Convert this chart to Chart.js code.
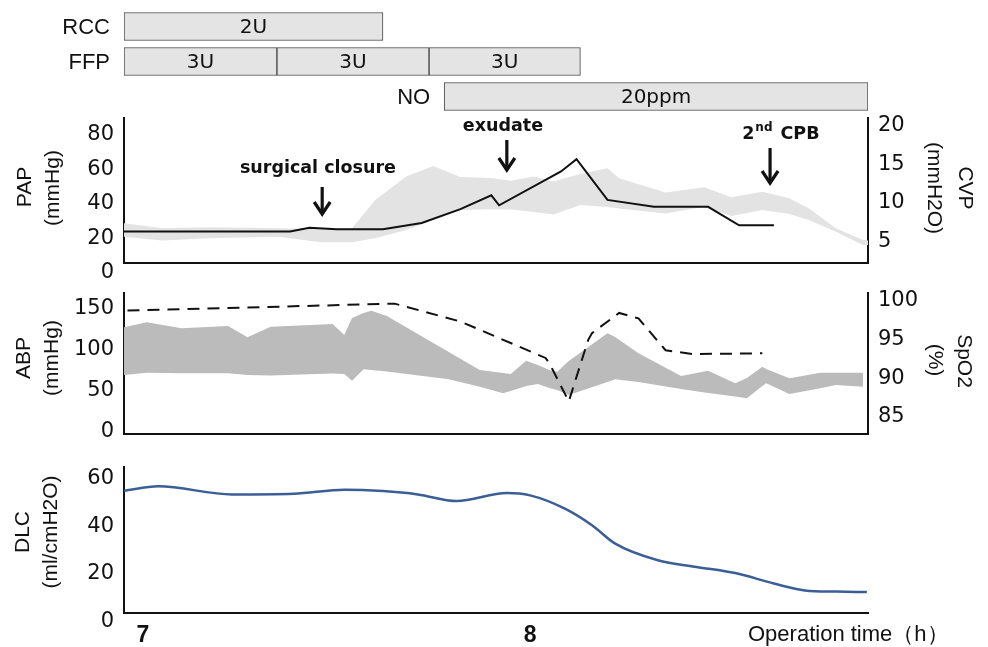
<!DOCTYPE html>
<html>
<head>
<meta charset="utf-8">
<script src="https://cdn.jsdelivr.net/npm/chart.js@4.4.1/dist/chart.umd.min.js"></script>
<style>
  html, body { margin: 0; padding: 0; background: #fff; }
  #wrap { position: relative; width: 988px; height: 647px; }
  #wrap canvas { position: absolute; left: 0; top: 0; }
</style>
</head>
<body>
<div id="wrap">
  <canvas id="bars" width="988" height="647"></canvas>
  <canvas id="pap" width="988" height="647"></canvas>
  <canvas id="abp" width="988" height="647"></canvas>
  <canvas id="dlc" width="988" height="647"></canvas>
</div>
<script>
// ---- data (time in hours of operation) ----
const X_MIN = 6.951, X_MAX = 8.873;
const timeTicks = [7, 8];

// transfusion / NO rows
const barRows = ['RCC', 'FFP', 'NO'];
const rccSpan = [6.951, 7.62];
const ffpSpans = [[6.951, 7.346], [7.346, 7.739], [7.739, 8.13]];
const noSpan = [7.778, 8.873];
const rccText = '2U';
const ffpText = ['3U', '3U', '3U'];
const noText = '20ppm';

// PAP band (mmHg)
const papTime = [6.95, 7.05, 7.17, 7.35, 7.46, 7.54, 7.60, 7.68, 7.75, 7.82, 7.90, 7.95, 8.01, 8.06, 8.13, 8.20, 8.23, 8.35, 8.45, 8.52, 8.60, 8.67, 8.72, 8.79, 8.86, 8.873];
const papHigh = [28.7, 25.8, 26.3, 25.8, 25.4, 25.8, 42.2, 55.8, 62.0, 55.6, 55.0, 53.4, 55.8, 52.9, 57.3, 60.6, 54.8, 46.5, 49.6, 43.8, 47.0, 43.2, 37.4, 25.8, 19.0, 18.6];
const papLow  = [20.9, 18.6, 19.9, 20.9, 17.6, 17.6, 19.9, 24.8, 30.6, 36.4, 36.8, 36.7, 35.2, 33.8, 39.3, 38.1, 37.3, 34.4, 38.3, 32.9, 36.4, 34.1, 30.6, 23.8, 16.1, 16.1];
const papTicks = [0, 20, 40, 60, 80];

// CVP (mmH2O)
const cvpTime = [6.95, 7.38, 7.43, 7.50, 7.62, 7.72, 7.82, 7.90, 7.92, 8.08, 8.12, 8.20, 8.32, 8.46, 8.54, 8.63];
const cvp     = [6.3, 6.3, 6.8, 6.6, 6.6, 7.4, 9.2, 11.0, 9.7, 14.1, 15.7, 10.4, 9.5, 9.5, 7.1, 7.1];
const cvpTicks = [5, 10, 15, 20];

// ABP band (mmHg)
const abpTime = [6.95, 7.01, 7.10, 7.22, 7.27, 7.33, 7.49, 7.52, 7.54, 7.57, 7.59, 7.63, 7.79, 7.87, 7.93, 7.95, 7.99, 8.02, 8.05, 8.07, 8.10, 8.20, 8.22, 8.28, 8.39, 8.46, 8.53, 8.56, 8.60, 8.61, 8.67, 8.75, 8.79, 8.85, 8.86];
const abpHigh = [127.6, 133.7, 126.3, 129.2, 115.3, 128.3, 131.6, 118.1, 139.0, 145.1, 147.9, 141.4, 97.3, 75.2, 71.6, 70.3, 86.6, 81.4, 75.2, 73.2, 86.3, 120.2, 115.7, 95.7, 67.9, 74.4, 58.9, 65.4, 79.3, 76.5, 65.1, 71.9, 71.9, 71.9, 71.9];
const abpLow  = [69.1, 71.9, 71.2, 71.2, 69.1, 68.5, 71.0, 70.3, 62.1, 76.1, 75.2, 73.4, 63.8, 54.8, 46.7, 49.5, 55.6, 58.1, 53.2, 50.7, 44.6, 60.5, 63.8, 60.5, 52.0, 47.1, 42.8, 40.6, 55.6, 58.9, 45.8, 52.8, 56.9, 55.0, 54.8];
const abpTicks = [0, 50, 100, 150];

// SpO2 (%)
const spo2Time = [6.96, 7.65, 7.82, 8.04, 8.05, 8.10, 8.15, 8.16, 8.23, 8.28, 8.35, 8.42, 8.60];
const spo2     = [98.7, 99.6, 97.3, 92.6, 91.9, 87.0, 94.9, 95.8, 98.4, 97.7, 93.6, 93.1, 93.2];
const spo2Ticks = [85, 90, 95, 100];

// DLC (ml/cmH2O)
const dlcTime = [6.95, 7.04, 7.23, 7.39, 7.52, 7.62, 7.71, 7.81, 7.94, 8.00, 8.09, 8.16, 8.22, 8.33, 8.43, 8.53, 8.63, 8.71, 8.79, 8.87];
const dlc     = [55.0, 56.9, 53.5, 53.8, 55.5, 54.9, 53.5, 50.7, 54.1, 53.1, 47.5, 40.5, 32.7, 25.7, 22.9, 20.3, 15.9, 13.0, 12.5, 12.3];
const dlcTicks = [0, 20, 40, 60];

// ---- look ----
const FONT = '"DejaVu Sans", sans-serif';
const TFONT = '"Liberation Sans", Arial, sans-serif';
const INK = '#111';
const PAGE_H = 647;

Chart.defaults.font.family = FONT;
Chart.defaults.color = INK;
Chart.defaults.animation = false;
Chart.defaults.responsive = false;
Chart.defaults.plugins.legend.display = false;
Chart.defaults.plugins.tooltip.enabled = false;

const zip = (xs, ys) => xs.map((x, i) => ({ x: x, y: ys[i] }));

function timeAxis(labelHeight) {
  return {
    type: 'linear', min: X_MIN, max: X_MAX, bounds: 'data',
    grid: { display: false, drawTicks: false },
    border: { display: true, color: INK, width: 2 },
    ticks: {
      display: !!labelHeight, padding: 9, maxRotation: 0, autoSkip: false,
      font: { family: TFONT, size: 23, weight: 'bold' },
      callback: v => String(v)
    },
    afterBuildTicks: s => { s.ticks = timeTicks.map(v => ({ value: v })); },
    afterFit: s => { s.height = labelHeight || 0; }
  };
}

function valueAxis(pos, min, max, ticks) {
  return {
    type: 'linear', position: pos, min: min, max: max, bounds: 'data',
    grid: { display: false, drawTicks: false },
    border: { display: true, color: INK, width: 2 },
    ticks: { padding: 10, autoSkip: false, font: { size: 21 }, color: INK },
    afterBuildTicks: s => { s.ticks = ticks.map(v => ({ value: v })); },
    afterFit: s => { s.width = pos === 'left' ? 124 : 120; }
  };
}

function vText(ctx, text, x, y, size, rot) {
  ctx.save();
  ctx.translate(x, y);
  ctx.rotate(rot);
  ctx.font = size + 'px ' + TFONT;
  ctx.fillStyle = INK;
  ctx.textAlign = 'center';
  ctx.textBaseline = 'middle';
  ctx.fillText(text, 0, 0);
  ctx.restore();
}

function titles(list) {
  return {
    id: 'titles',
    afterDraw(chart) {
      list.forEach(t => vText(chart.ctx, t[0], t[1], t[2], 21, t[3] === 'r' ? Math.PI / 2 : -Math.PI / 2));
    }
  };
}

function arrowDown(ctx, x, y0, y1) {
  ctx.save();
  ctx.strokeStyle = INK;
  ctx.lineWidth = 3.2;
  ctx.lineJoin = 'miter';
  ctx.beginPath();
  ctx.moveTo(x, y0); ctx.lineTo(x, y1 - 1);
  ctx.stroke();
  ctx.beginPath();
  ctx.moveTo(x - 8, y1 - 12); ctx.lineTo(x, y1); ctx.lineTo(x + 8, y1 - 12);
  ctx.stroke();
  ctx.restore();
}

// ---- transfusion bars ----
const barLabels = {
  id: 'barLabels',
  afterDatasetsDraw(chart) {
    const ctx = chart.ctx;
    ctx.save();
    ctx.fillStyle = INK;
    ctx.textBaseline = 'middle';
    ctx.textAlign = 'center';
    ctx.font = '20px ' + FONT;
    chart.data.datasets.forEach((ds, i) => {
      chart.getDatasetMeta(i).data.forEach((el, j) => {
        if (!ds.texts[j]) return;
        const p = el.getProps(['x', 'base', 'y'], true);
        ctx.fillText(ds.texts[j], (p.x + p.base) / 2, p.y + 1);
      });
    });
    ctx.textAlign = 'right';
    ctx.font = '22px ' + TFONT;
    const meta = chart.getDatasetMeta(0);
    barRows.forEach((r, j) => {
      const p = meta.data[j].getProps(['x', 'base', 'y'], true);
      ctx.fillText(r, Math.min(p.x, p.base) - 14, p.y + 1);
    });
    ctx.restore();
  }
};

const barStyle = {
  backgroundColor: '#e4e4e4', borderColor: '#444', borderWidth: 1,
  borderSkipped: false, grouped: false, barThickness: 28
};

new Chart(document.getElementById('bars'), {
  type: 'bar',
  data: {
    labels: barRows,
    datasets: [
      Object.assign({ data: [rccSpan, ffpSpans[0], noSpan], texts: [rccText, ffpText[0], noText] }, barStyle),
      Object.assign({ data: [null, ffpSpans[1], null], texts: [null, ffpText[1], null] }, barStyle),
      Object.assign({ data: [null, ffpSpans[2], null], texts: [null, ffpText[2], null] }, barStyle)
    ]
  },
  options: {
    indexAxis: 'y',
    layout: { padding: { left: 124, right: 120, top: 9, bottom: PAGE_H - 114 } },
    scales: {
      x: { type: 'linear', min: X_MIN, max: X_MAX, display: false },
      y: { type: 'category', display: false, offset: true }
    }
  },
  plugins: [barLabels]
});

// ---- PAP / CVP ----
const papNotes = {
  id: 'papNotes',
  afterDraw(chart) {
    const ctx = chart.ctx;
    const xs = chart.scales.x;
    ctx.save();
    ctx.fillStyle = INK;
    ctx.textBaseline = 'middle';
    ctx.textAlign = 'center';
    ctx.font = 'bold 17.5px ' + FONT;
    ctx.fillText('surgical closure', xs.getPixelForValue(7.452), 168);
    arrowDown(ctx, xs.getPixelForValue(7.463), 187, 214);
    ctx.fillText('exudate', xs.getPixelForValue(7.93), 126);
    arrowDown(ctx, xs.getPixelForValue(7.94), 140, 170);
    // 2nd CPB
    let x = xs.getPixelForValue(8.548);
    ctx.textAlign = 'left';
    ctx.fillText('2', x, 134);
    x += ctx.measureText('2').width + 1;
    ctx.font = 'bold 12px ' + FONT;
    ctx.fillText('nd', x, 128);
    x += ctx.measureText('nd').width + 8;
    ctx.font = 'bold 17.5px ' + FONT;
    ctx.fillText('CPB', x, 134);
    arrowDown(ctx, xs.getPixelForValue(8.62), 148, 183);
    ctx.restore();
  }
};

new Chart(document.getElementById('pap'), {
  type: 'line',
  data: {
    datasets: [
      { data: zip(cvpTime, cvp), yAxisID: 'cvp', borderColor: INK, borderWidth: 2, pointRadius: 0, fill: false, order: 0 },
      { data: zip(papTime, papHigh), yAxisID: 'pap', borderWidth: 0, pointRadius: 0, fill: false, order: 1 },
      { data: zip(papTime, papLow), yAxisID: 'pap', borderWidth: 0, pointRadius: 0, fill: '-1', backgroundColor: '#e3e3e3', order: 1 }
    ]
  },
  options: {
    layout: { padding: { top: 118, bottom: PAGE_H - 263, left: 0, right: 0 } },
    scales: {
      x: timeAxis(0),
      pap: valueAxis('left', 5.58, 89.88, papTicks),
      cvp: valueAxis('right', 2.21, 21.04, cvpTicks)
    }
  },
  plugins: [papNotes, titles([
    ['PAP', 25, 187, 'l'], ['(mmHg)', 53, 188, 'l'],
    ['CVP', 965, 188, 'r'], ['(mmH2O)', 934, 188, 'r']
  ])]
});

// ---- ABP / SpO2 ----
new Chart(document.getElementById('abp'), {
  type: 'line',
  data: {
    datasets: [
      { data: zip(spo2Time, spo2), yAxisID: 'spo2', borderColor: INK, borderWidth: 2, borderDash: [12, 8], pointRadius: 0, fill: false, order: 0 },
      { data: zip(abpTime, abpHigh), yAxisID: 'abp', borderWidth: 0, pointRadius: 0, fill: false, order: 1 },
      { data: zip(abpTime, abpLow), yAxisID: 'abp', borderWidth: 0, pointRadius: 0, fill: '-1', backgroundColor: '#bbbbbb', order: 1 }
    ]
  },
  options: {
    layout: { padding: { top: 293, bottom: PAGE_H - 434, left: 0, right: 0 } },
    scales: {
      x: timeAxis(0),
      abp: valueAxis('left', -3.19, 169.6, abpTicks),
      spo2: valueAxis('right', 82.8, 100.97, spo2Ticks)
    }
  },
  plugins: [titles([
    ['ABP', 24, 358, 'l'], ['(mmHg)', 52.5, 358, 'l'],
    ['SpO2', 964, 361, 'r'], ['(%)', 935, 360, 'r']
  ])]
});

// ---- DLC ----
const xTitle = {
  id: 'xTitle',
  afterDraw(chart) {
    const ctx = chart.ctx;
    ctx.save();
    ctx.fillStyle = INK;
    ctx.font = '22px ' + TFONT;
    ctx.textAlign = 'left';
    ctx.textBaseline = 'middle';
    ctx.fillText('Operation time（h）', 748, 635);
    ctx.restore();
  }
};

new Chart(document.getElementById('dlc'), {
  type: 'line',
  data: {
    datasets: [
      { data: zip(dlcTime, dlc), yAxisID: 'y', borderColor: '#3b5e97', borderWidth: 2.5, pointRadius: 0, fill: false, cubicInterpolationMode: 'monotone' }
    ]
  },
  options: {
    layout: { padding: { top: 467, bottom: 0, left: 0, right: 120 } },
    scales: {
      x: timeAxis(PAGE_H - 613),
      y: valueAxis('left', 3.46, 65.06, dlcTicks)
    }
  },
  plugins: [xTitle, titles([
    ['DLC', 23.5, 532, 'l'], ['(ml/cmH2O)', 51.7, 532, 'l']
  ])]
});
</script>
</body>
</html>
